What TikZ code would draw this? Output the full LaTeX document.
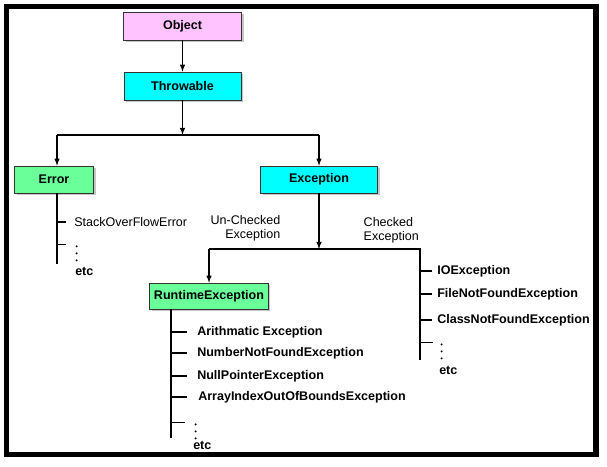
\documentclass[tikz,border=0pt]{standalone}
\usepackage{fontspec}
\setmainfont{Liberation Sans}
\usepackage{tikz}
\usetikzlibrary{arrows, positioning, shadows}
\definecolor{objPink}{HTML}{FFC4FF}
\definecolor{thrCyan}{HTML}{00FFFF}
\definecolor{errGreen}{HTML}{6BFF99}
\newcommand{\fsz}{\fontsize{9.4}{10.5}\selectfont}

\begin{document}
\begin{tikzpicture}[x=0.75pt, y=-0.75pt,
    cls/.style={rectangle, draw=black!80, minimum height=21pt, font=\fsz\bfseries,
        drop shadow={shadow xshift=1.5pt, shadow yshift=-1.5pt, opacity=0.45}},
    item/.style={anchor=west, inner sep=0pt, font=\fsz\bfseries},
    dotcol/.style={anchor=north west, inner sep=0pt, minimum width=2pt, minimum height=12.9pt,
        path picture={
            \fill ([yshift=-1.2pt]path picture bounding box.north) circle (0.8pt);
            \fill ([yshift=-6.45pt]path picture bounding box.north) circle (0.8pt);
            \fill ([yshift=-11.7pt]path picture bounding box.north) circle (0.8pt);
        }},
    arrow/.style={->, >=latex, line width=0.85pt},
    branch/.style={line width=0.85pt},
    tick/.style={line width=0.85pt, shorten >=#1},
]
    \useasboundingbox (0,0) rectangle (607,467);
    \draw[line width=4pt] (6.5,6.5) rectangle (596,454.5);

    % class boxes
    \node[cls, fill=objPink, minimum width=88.5pt] (obj) at (182.5,26) {Object};
    \node[cls, fill=thrCyan, minimum width=87.75pt] (thr) at (182.5,86) {Throwable};
    \node[cls, fill=errGreen, minimum width=59.25pt, minimum height=20.25pt] (err) at (54,179.5) {Error};
    \node[cls, fill=thrCyan, minimum width=87.75pt, minimum height=20.25pt] (exc) at (319,179.5) {Exception};
    \node[cls, fill=errGreen, minimum width=87.75pt, minimum height=19.5pt] (rte) at (209,296) {RuntimeException};

    \draw[arrow] (obj) -- (thr);

    % Throwable -> Error / Exception
    \coordinate (j1) at (182.5,135);
    \coordinate (j1l) at (57,135);
    \coordinate (j1r) at (exc |- j1);
    \draw[arrow] (thr) -- (j1);
    \draw[branch] (j1l) -- (j1r);
    \draw[arrow] (j1l) -- (j1l |- err.north);
    \draw[arrow] (j1r) -- (exc);

    % Exception -> unchecked / checked
    \coordinate (j2) at (319,249);
    \coordinate (j2l) at (rte |- j2);
    \coordinate (j2r) at (420,249);
    \coordinate (chkbot) at (420,360);
    \draw[arrow] (exc) -- (j2);
    \draw[branch] (j2l) -- (j2r) -- (chkbot);
    \draw[arrow] (j2l) -- (rte);

    \node[anchor=east, align=right, font=\fsz] (unchk) at (285,228.5) {Un-Checked\\Exception};
    \node[anchor=west, align=left, font=\fsz] (chk) at (359,230) {Checked\\Exception};

    % Error subclasses
    \coordinate (errtop) at (57,193);
    \coordinate (errbot) at (57,264);
    \draw[branch] (errtop) -- (errbot);
    \node[item, font=\fsz] (soe) at (74,222) {StackOverFlowError};
    \node[dotcol] (errdots) at (75,244.5) {};
    \node[item] (erretc) at (75,271) {etc};
    \draw[tick=6pt] (errbot |- soe.west) -- (soe.west);
    \draw[tick=7pt] (errbot |- errdots.north west) -- (errdots.north west);

    % RuntimeException subclasses
    \coordinate (rtetop) at (171,309);
    \coordinate (rtebot) at (171,438);
    \draw[branch] (rtetop) -- (rtebot);
    \node[item] (ari) at (197,332) {Arithmatic Exception};
    \node[item] (nnf) at (197,353) {NumberNotFoundException};
    \node[item] (npe) at (197,376) {NullPointerException};
    \node[item] (aio) at (198,397) {ArrayIndexOutOfBoundsException};
    \node[dotcol] (rtedots) at (194,422.5) {};
    \node[item] (rteetc) at (193,445) {etc};
    \draw[tick=7.5pt] (rtebot |- ari.west) -- (ari.west);
    \draw[tick=7.5pt] (rtebot |- nnf.west) -- (nnf.west);
    \draw[tick=7.5pt] (rtebot |- npe.west) -- (npe.west);
    \draw[tick=8pt] (rtebot |- aio.west) -- (aio.west);
    \draw[tick=6.75pt] (rtebot |- rtedots.north west) -- (rtedots.north west);

    % checked exceptions
    \node[item] (ioe) at (437,271) {IOException};
    \node[item] (fnf) at (437,294) {FileNotFoundException};
    \node[item] (cnf) at (437,320) {ClassNotFoundException};
    \node[dotcol] (chkdots) at (440,342.5) {};
    \node[item] (chketc) at (439,370) {etc};
    \draw[tick=4pt] (chkbot |- ioe.west) -- (ioe.west);
    \draw[tick=4pt] (chkbot |- fnf.west) -- (fnf.west);
    \draw[tick=4pt] (chkbot |- cnf.west) -- (cnf.west);
    \draw[tick=5.25pt] (chkbot |- chkdots.north west) -- (chkdots.north west);
\end{tikzpicture}
\end{document}
